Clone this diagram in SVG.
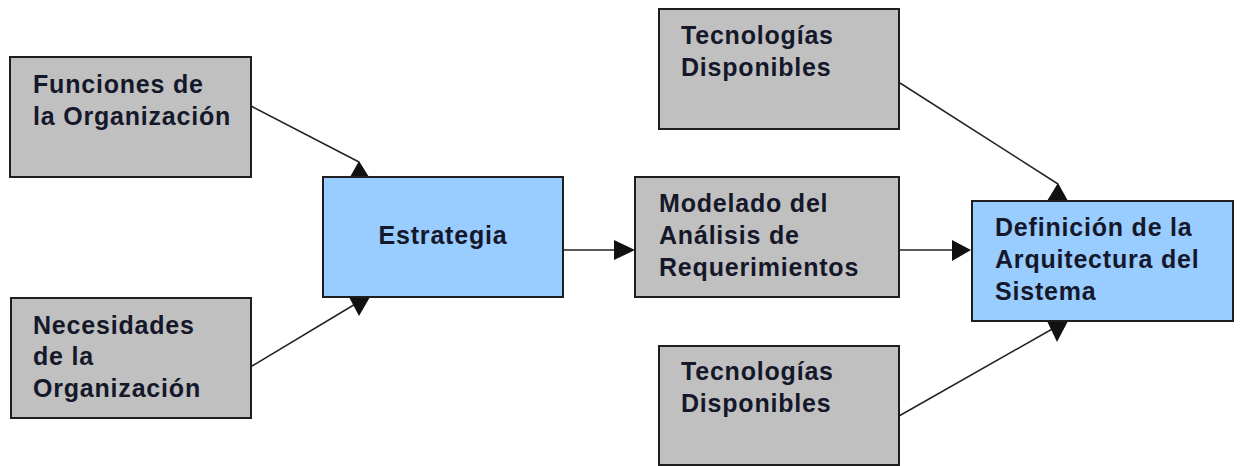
<svg xmlns="http://www.w3.org/2000/svg" width="1241" height="466" viewBox="0 0 1241 466">
<style>
.box{stroke:#1e1e1e;stroke-width:2}
.gray{fill:#c0c0c0}
.blue{fill:#99ccff}
.t{font-family:"Liberation Sans",Arial,sans-serif;font-weight:bold;font-size:25px;letter-spacing:0.8px;fill:#15182a}
.ln{stroke:#222;stroke-width:1.5;fill:none}
.ah{fill:#111}
</style>
<rect width="1241" height="466" fill="#ffffff"/>
<g id="connectors">
<line class="ln" x1="251" y1="106" x2="359" y2="162"/>
<polygon class="ah" points="359,161 350,177 369,177"/>
<line class="ln" x1="252" y1="366" x2="357" y2="303"/>
<polygon class="ah" points="349,297 370,297 359,316"/>
<line class="ln" x1="563" y1="250" x2="616" y2="250"/>
<polygon class="ah" points="614,240 614,260 635,250"/>
<line class="ln" x1="899" y1="250" x2="954" y2="250"/>
<polygon class="ah" points="952,240 952,261 971,250"/>
<line class="ln" x1="900" y1="83" x2="1058" y2="184"/>
<polygon class="ah" points="1058,183 1047,201 1068,201"/>
<line class="ln" x1="899" y1="416" x2="1054" y2="328"/>
<polygon class="ah" points="1047,321 1068,321 1057,342"/>
</g>
<g id="funciones">
<rect class="box gray" x="10" y="57" width="241" height="120"/>
<text class="t" x="33" y="93">Funciones de</text>
<text class="t" x="33" y="124.5">la Organización</text>
</g>
<g id="necesidades">
<rect class="box gray" x="11" y="298" width="240" height="120"/>
<text class="t" x="33" y="333.5">Necesidades</text>
<text class="t" x="33" y="365">de la</text>
<text class="t" x="33" y="396.5">Organización</text>
</g>
<g id="estrategia">
<rect class="box blue" x="323" y="177" width="240" height="120"/>
<text class="t" x="443" y="244" text-anchor="middle">Estrategia</text>
</g>
<g id="modelado">
<rect class="box gray" x="635" y="177" width="264" height="120"/>
<text class="t" x="659" y="212">Modelado del</text>
<text class="t" x="659" y="244">Análisis de</text>
<text class="t" x="659" y="275.5">Requerimientos</text>
</g>
<g id="tecnologias-1">
<rect class="box gray" x="659" y="9" width="240" height="120"/>
<text class="t" x="681" y="44">Tecnologías</text>
<text class="t" x="681" y="76">Disponibles</text>
</g>
<g id="tecnologias-2">
<rect class="box gray" x="659" y="346" width="240" height="119"/>
<text class="t" x="681" y="380">Tecnologías</text>
<text class="t" x="681" y="412">Disponibles</text>
</g>
<g id="definicion">
<rect class="box blue" x="972" y="201" width="261" height="120"/>
<text class="t" x="995" y="236">Definición de la</text>
<text class="t" x="995" y="268">Arquitectura del</text>
<text class="t" x="995" y="300">Sistema</text>
</g>
</svg>
